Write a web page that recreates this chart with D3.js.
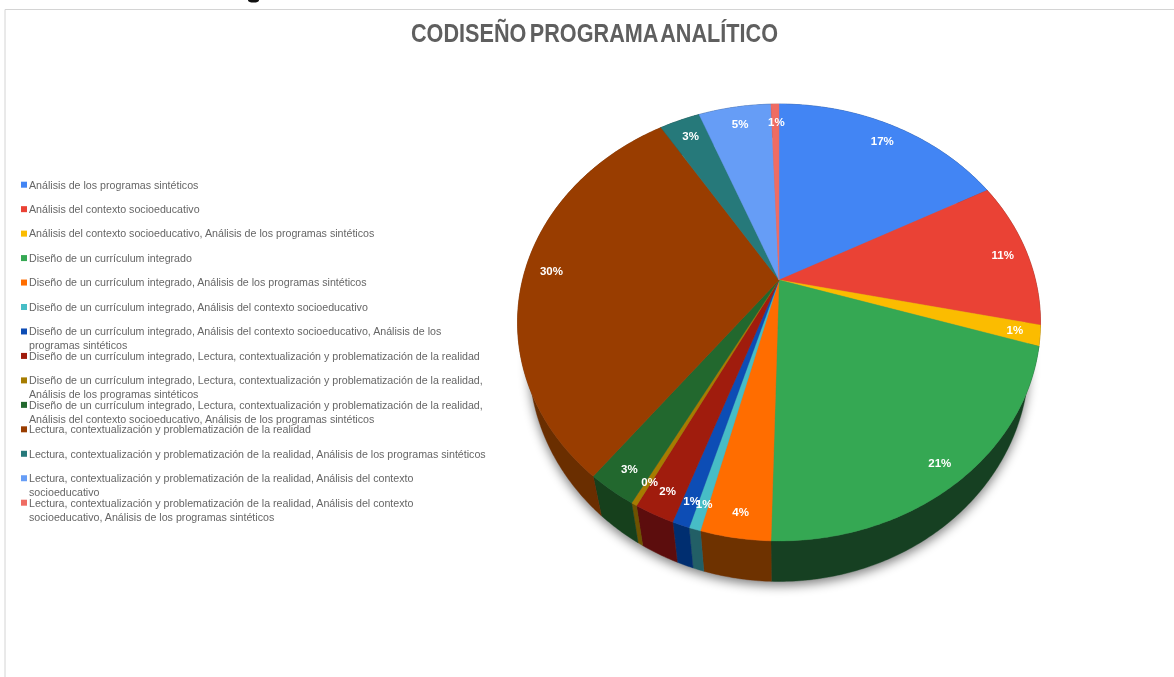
<!DOCTYPE html>
<html>
<head>
<meta charset="utf-8">
<script src="https://d3js.org/d3.v7.min.js"></script>
<style>
    html, body { margin: 0; padding: 0; background: #fff; overflow: hidden; }
    text { font-family: "Liberation Sans", Arial, sans-serif; }
</style>
</head>
<body>
<svg id="chart" width="1174" height="677"></svg>
<script>
var title = 'CODISEÑO PROGRAMA ANALÍTICO';
var categories = [
    'Análisis de los programas sintéticos',
    'Análisis del contexto socioeducativo',
    'Análisis del contexto socioeducativo, Análisis de los programas sintéticos',
    'Diseño de un currículum integrado',
    'Diseño de un currículum integrado, Análisis de los programas sintéticos',
    'Diseño de un currículum integrado, Análisis del contexto socioeducativo',
    'Diseño de un currículum integrado, Análisis del contexto socioeducativo, Análisis de los\nprogramas sintéticos',
    'Diseño de un currículum integrado, Lectura, contextualización y problematización de la realidad',
    'Diseño de un currículum integrado, Lectura, contextualización y problematización de la realidad,\nAnálisis de los programas sintéticos',
    'Diseño de un currículum integrado, Lectura, contextualización y problematización de la realidad,\nAnálisis del contexto socioeducativo, Análisis de los programas sintéticos',
    'Lectura, contextualización y problematización de la realidad',
    'Lectura, contextualización y problematización de la realidad, Análisis de los programas sintéticos',
    'Lectura, contextualización y problematización de la realidad, Análisis del contexto\nsocioeducativo',
    'Lectura, contextualización y problematización de la realidad, Análisis del contexto\nsocioeducativo, Análisis de los programas sintéticos'
];
// slice sizes in percent
var values = [17.3, 11.0, 1.5, 20.6, 3.6, 0.6, 0.9, 2.1, 0.3, 2.6, 30.5, 3.0, 5.4, 0.6];
// the labels the chart prints (rounded down in places, as in the original)
var valueLabels = ['17%', '11%', '1%', '21%', '4%', '1%', '1%', '2%', '0%', '3%', '30%', '3%', '5%', '1%'];
var colors = ['#4285f4', '#ea4335', '#fbbc04', '#34a853', '#ff6d01', '#46bdc6', '#0f4db5',
    '#a01b10', '#a67c00', '#22682f', '#993e00', '#27797a', '#669df6', '#ef6c64'];
var wallColors = ['#1c3a6b', '#661d17', '#6e5202', '#143f20', '#6e3000', '#235f66', '#062f70',
    '#5c0f0b', '#6e5200', '#143f1e', '#6b2d00', '#113535', '#2c446b', '#682f2b'];

var svg = d3.select('#chart');
var defs = svg.append('defs');
defs.append('filter').attr('id', 'shadow')
    .attr('x', '-10%').attr('y', '-10%').attr('width', '120%').attr('height', '120%')
    .append('feGaussianBlur').attr('stdDeviation', 5.5);
defs.append('filter').attr('id', 'soft')
    .append('feGaussianBlur').attr('stdDeviation', 0.4);

// sheet edge
svg.append('path').attr('d', 'M5,677V9.5H1174').attr('fill', 'none').attr('stroke', '#d4d4d4').attr('stroke-width', 1);

// speck left over from the heading cropped off above the sheet
svg.append('ellipse')
    .attr('cx', 253.5).attr('cy', 0.5).attr('rx', 5.5).attr('ry', 2)
    .attr('fill', '#111');

// title
svg.append('text')
    .attr('x', 594.5).attr('y', 42)
    .attr('text-anchor', 'middle')
    .attr('textLength', 367).attr('lengthAdjust', 'spacingAndGlyphs')
    .attr('filter', 'url(#soft)')
    .style('font-size', '25px').style('font-weight', 'bold').style('word-spacing', '-3px')
    .attr('fill', '#5f5f5f')
    .text(title);

// legend
var legendY = d3.scalePoint().domain(d3.range(categories.length)).range([184.7, 502.7]);
var legend = svg.append('g').attr('filter', 'url(#soft)');
categories.forEach(function (c, i) {
    legend.append('rect')
        .attr('x', 21).attr('y', legendY(i) - 3).attr('width', 6).attr('height', 6)
        .attr('fill', colors[i]);
    c.split('\n').forEach(function (line, j) {
        legend.append('text')
            .attr('x', 29).attr('y', legendY(i) + j * 14 + 3.8)
            .style('font-size', '10.67px')
            .attr('fill', '#666')
            .text(line);
    });
});

// pie: top face is a tilted disc, apex sits above the ellipse centre
var apex = { x: 779, y: 280 };
var a = 256.5, b = 210.2, k = 0.1945;
var topCy = 322, topRx = 261.5, topRy = 218.5;
var botCy = 359, botRx = 250, botRy = 222;

function topPoint(theta, r) {
    var d = 1 + k * Math.cos(theta);
    return [apex.x + r * a * Math.sin(theta) / d, apex.y - r * b * Math.cos(theta) / d];
}
function botPoint(theta) {
    var p = topPoint(theta, 1);
    return [apex.x + (p[0] - apex.x) * botRx / topRx, botCy + (p[1] - topCy) * botRy / topRy];
}
function steps(d) {
    var n = Math.max(2, Math.ceil((d.endAngle - d.startAngle) / 0.01));
    return d3.range(n + 1).map(function (i) {
        return d.startAngle + (d.endAngle - d.startAngle) * i / n;
    });
}

var arcs = d3.pie().sort(null).value(function (d) { return d; })(values);
var line = d3.line();

// soft shadow under the wall
var all = { startAngle: 0, endAngle: 2 * Math.PI };
svg.append('path')
    .attr('d', line(steps(all).map(botPoint)) + 'Z')
    .attr('transform', 'translate(0,4)')
    .attr('fill', '#000').attr('opacity', 0.5)
    .attr('filter', 'url(#shadow)');

// walls first, the top face covers the back ones
var pie = svg.append('g').attr('filter', 'url(#soft)');
arcs.forEach(function (d, i) {
    var ts = steps(d);
    var outer = ts.map(function (t) { return topPoint(t, 1); });
    var lower = ts.slice().reverse().map(botPoint);
    pie.append('path')
        .attr('d', line(outer.concat(lower)) + 'Z')
        .attr('fill', wallColors[i])
        .attr('stroke', wallColors[i]).attr('stroke-width', 0.4);
});
arcs.forEach(function (d, i) {
    var ts = steps(d);
    var outer = ts.map(function (t) { return topPoint(t, 1); });
    pie.append('path')
        .attr('d', line([[apex.x, apex.y]].concat(outer)) + 'Z')
        .attr('fill', colors[i])
        .attr('stroke', colors[i]).attr('stroke-width', 0.4);
});

// percent labels
arcs.forEach(function (d, i) {
    var p = topPoint((d.startAngle + d.endAngle) / 2, 0.9);
    svg.append('text')
        .attr('x', p[0] + 1).attr('y', p[1]).attr('dy', '0.35em')
        .attr('text-anchor', 'middle')
        .attr('fill', '#fff').attr('filter', 'url(#soft)')
        .style('font-size', '11.5px').style('font-weight', 'bold')
        .text(valueLabels[i]);
});
</script>
</body>
</html>
